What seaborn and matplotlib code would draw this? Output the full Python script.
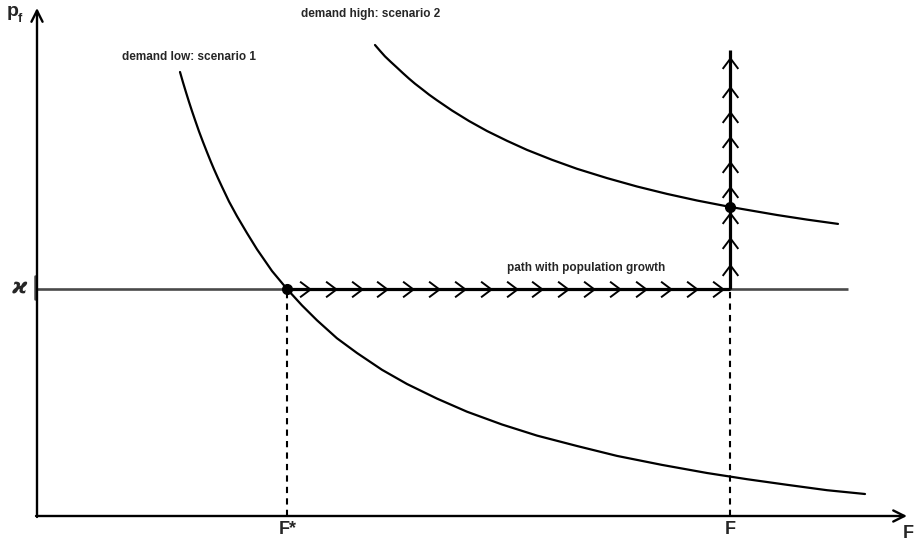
import matplotlib
matplotlib.use("Agg")
import matplotlib.pyplot as plt
from matplotlib.path import Path
import seaborn as sns
import pandas as pd

# ---- data (diagram units, origin at the axes corner) ----
low_x = [143, 146, 149, 152, 155, 158, 162, 166, 170, 174, 177, 181, 185, 192, 200, 210, 220, 235, 250, 265,
         280, 300, 320, 345, 370, 400, 430, 465, 500, 540, 580, 625, 670, 710, 750, 790, 828]
low_y = [444.0, 433.6, 423.7, 414.1, 404.9, 396.1, 384.6, 374.0, 363.8, 353.9, 346.8, 337.8, 329.2, 314.5,
         299.8, 282.9, 266.7, 245.0, 227.0, 210.6, 195.7, 177.7, 163.0, 146.2, 132.0, 117.4, 104.3, 91.5,
         80.4, 70.0, 60.1, 51.1, 43.0, 36.8, 31.2, 25.8, 22.0]
high_x = [338, 343, 348, 354, 360, 366, 372, 378, 385, 392, 400, 415, 432, 450, 470, 490, 515, 540, 570, 600,
          630, 660, 693, 740, 770, 801]
high_y = [471.0, 465.2, 459.6, 453.9, 448.4, 442.8, 437.4, 432.3, 426.9, 421.4, 415.7, 405.5, 395.0, 385.0,
          375.2, 366.1, 356.2, 347.2, 337.9, 329.5, 322.1, 315.5, 309.1, 301.0, 296.4, 292.1]
kappa = 227
F_star = 250
F_bar = 693
F_axis_end = 811
path_top = 466
harrow_x = [273, 299, 325, 350, 376, 402, 428, 454, 480, 505, 531, 557, 583, 609, 634, 660, 686]
varrow_y = [251, 278, 303, 329, 354, 379, 404, 429, 458]
high_point_y = 309

sns.set_theme(style="white")
plt.rcParams['font.family'] = ['Liberation Sans', 'DejaVu Sans']

fig = plt.figure(figsize=(9.15, 5.48), dpi=100)
ax = fig.add_axes([0, 0, 1, 1])
ax.set_xlim(-37, 878)
ax.set_ylim(-32, 516)
ax.axis("off")

# axes with arrows
ax.annotate("", xy=(0, 508), xytext=(0, -1),
            arrowprops=dict(arrowstyle="->", lw=1.7, color="black", mutation_scale=20, shrinkA=0, shrinkB=0))
ax.annotate("", xy=(870, 0), xytext=(-1, 0),
            arrowprops=dict(arrowstyle="->", lw=1.7, color="black", mutation_scale=20, shrinkA=0, shrinkB=0))

# kappa line and tick
ax.plot([0, F_axis_end], [kappa, kappa], color="#4a4a4a", lw=1.9, solid_capstyle="butt")
ax.plot([-2, -2], [kappa - 10, kappa + 13], color="#4a4a4a", lw=1.8)

# demand curves
low_df = pd.DataFrame({"F": low_x, "p": low_y})
high_df = pd.DataFrame({"F": high_x, "p": high_y})
sns.lineplot(data=low_df, x="F", y="p", ax=ax, color="black", lw=1.6, sort=False, estimator=None)
sns.lineplot(data=high_df, x="F", y="p", ax=ax, color="black", lw=1.6, sort=False, estimator=None)

# dashed verticals
ax.plot([F_star, F_star], [0, kappa], color="black", lw=1.5, ls=(0, (3, 2.5)))
ax.plot([F_bar, F_bar], [0, kappa], color="black", lw=1.5, ls=(0, (3, 2.5)))

# path with population growth
ax.plot([F_star, F_bar], [kappa, kappa], color="black", lw=2.3, solid_capstyle="butt")
ax.plot([F_bar, F_bar], [kappa, path_top], color="black", lw=2.3, solid_capstyle="butt")

right_chev = Path([(-1, 0.75), (0, 0), (-1, -0.75)], [Path.MOVETO, Path.LINETO, Path.LINETO])
up_chev = Path([(-0.75, -1), (0, 0), (0.75, -1)], [Path.MOVETO, Path.LINETO, Path.LINETO])
ax.plot(harrow_x, [kappa] * len(harrow_x), ls="none", marker=right_chev, ms=15,
        mfc="none", mec="black", mew=1.4)
ax.plot([F_bar] * len(varrow_y), varrow_y, ls="none", marker=up_chev, ms=15,
        mfc="none", mec="black", mew=1.4)

# equilibrium points
ax.plot([F_star, F_bar], [kappa, high_point_y], ls="none", marker="o", ms=7, color="black")

# texts
ax.text(-24, 505, "p", fontsize=14, fontweight="bold", ha="center", va="center")
ax.text(-17, 497, "f", fontsize=9, fontweight="bold", ha="center", va="center")
ax.text(-17, kappa + 2, "ϰ", fontsize=15, fontweight="bold", style="italic",
        family=["DejaVu Sans"], ha="center", va="center")
ax.text(152, 459, "demand low: scenario 1", fontsize=8.5, fontweight="bold", ha="center", va="center")
ax.text(334, 502, "demand high: scenario 2", fontsize=8.5, fontweight="bold", ha="center", va="center")
ax.text(549, 248, "path with population growth", fontsize=8.5, fontweight="bold", ha="center", va="center")
ax.text(F_star + 1, -14, "F*", fontsize=13, fontweight="bold", ha="center", va="center")
ax.text(F_bar, -14, "F", fontsize=13, fontweight="bold", ha="center", va="center")
ax.text(877, -17, "F", fontsize=13, fontweight="bold", ha="right", va="center")

fig.savefig("out.png", dpi=100)
